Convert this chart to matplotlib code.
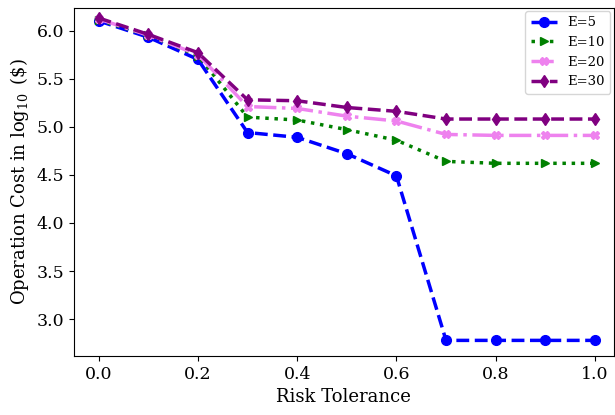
import numpy as np
import matplotlib
matplotlib.use("Agg")
import matplotlib.pyplot as plt

plt.rcParams['font.family'] = 'DejaVu Serif'
plt.rcParams['mathtext.fontset'] = 'dejavuserif'

# risk tolerance values
risk = [0.0, 0.1, 0.2, 0.3, 0.4, 0.5, 0.6, 0.7, 0.8, 0.9, 1.0]

# operation cost (log10) for each E
cost_e5 = [6.10, 5.93, 5.70, 4.94, 4.89, 4.72, 4.49, 2.78, 2.78, 2.78, 2.78]
cost_e10 = [6.11, 5.95, 5.74, 5.10, 5.07, 4.97, 4.86, 4.64, 4.62, 4.62, 4.62]
cost_e20 = [6.12, 5.95, 5.75, 5.21, 5.19, 5.11, 5.06, 4.92, 4.91, 4.91, 4.91]
cost_e30 = [6.13, 5.96, 5.77, 5.28, 5.27, 5.20, 5.16, 5.08, 5.08, 5.08, 5.08]

labels = ["E=5", "E=10", "E=20", "E=30"]

fig = plt.figure(figsize=(6.15, 4.15), dpi=100)
ax = fig.add_axes([0.120, 0.142, 0.878, 0.839])

ax.plot(risk, cost_e5, color='blue', linestyle='--', marker='o', lw=2.5, ms=7, label=labels[0])
ax.plot(risk, cost_e10, color='green', linestyle=':', marker='>', lw=2.5, ms=6, label=labels[1])
ax.plot(risk, cost_e20, color='violet', linestyle='-.', marker='X', lw=2.5, ms=6, label=labels[2])
ax.plot(risk, cost_e30, color='purple', linestyle='--', marker='d', lw=2.5, ms=6, label=labels[3])

ax.set_xlim(-0.05, 1.038)
ax.set_ylim(2.617, 6.235)
ax.set_xlabel("Risk Tolerance", fontsize=13)
ax.set_ylabel(r"Operation Cost in $\log_{10}$ (\$)", fontsize=13)
ax.set_yticks([3.0, 3.5, 4.0, 4.5, 5.0, 5.5, 6.0])
ax.set_xticks([0.0, 0.2, 0.4, 0.6, 0.8, 1.0])
ax.tick_params(labelsize=12.5)
ax.legend(loc='upper right', fontsize=9.5, borderaxespad=0.25, handlelength=2.0)

fig.savefig("out.png", dpi=100)
